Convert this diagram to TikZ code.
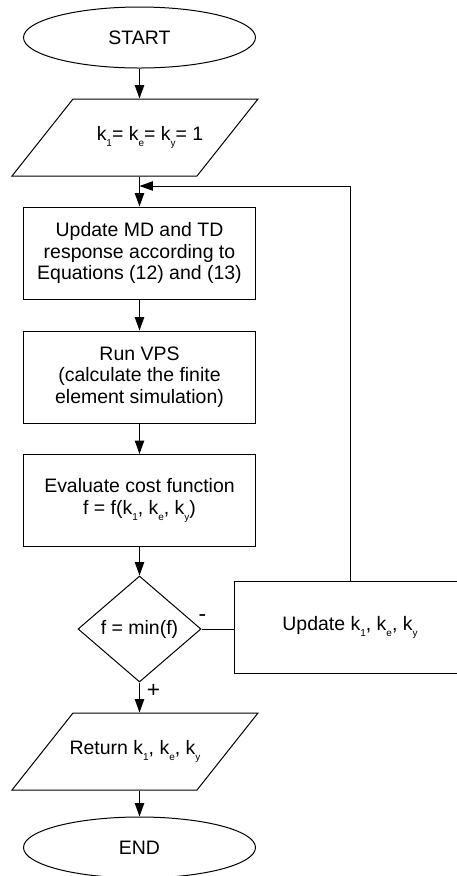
\documentclass[tikz,border=0pt]{standalone}
\usepackage{fontspec}
\setmainfont{Liberation Sans}
\usetikzlibrary{shapes.geometric,arrows.meta,calc}

\tikzset{every picture/.style={line width=0.75pt}}
\tikzset{
	term/.style={draw, ellipse, minimum width=174pt, minimum height=45.75pt, inner sep=0pt},
	proc/.style={draw, rectangle, minimum width=174pt, minimum height=69pt, inner sep=0pt, align=center},
	io/.style={rectangle, minimum width=138.75pt, minimum height=57.75pt, inner sep=0pt, align=center},
	dec/.style={draw, diamond, minimum width=92.25pt, minimum height=79.5pt, inner sep=0pt},
	arr/.style={-{Triangle[length=10pt,width=7pt]}},
	sign/.style={inner sep=0pt, font=\fontsize{17}{17}\selectfont},
}
\newcommand{\sbs}[1]{\raisebox{-4.5pt}{\fontsize{7.5}{8}\selectfont #1}}

\begin{document}
\begin{tikzpicture}[x=0.75pt,y=0.75pt,yscale=-1,xscale=1,font=\fontsize{14.6}{16.3}\selectfont]
		\path[use as bounding box, clip] (0,0) rectangle (457,876);
		
		%Terminals
		\node[term] (start) at (139.5,37.5) {START};
		\node[term] (end) at (139.5,847.5) {END};
		
		%Input / output
		\node[io] (init) at (150,137.5) {k\sbs{1}= k\sbs{e}= k\sbs{y}= 1};
		\draw ($(init.center)+(-77,-38.5)$) -- ($(init.center)+(108,-38.5)$) -- ($(init.center)+(47,38.5)$) -- ($(init.center)+(-138,38.5)$) -- cycle ;
		\node[io] (ret) at (135,751.5) {Return k\sbs{1}, k\sbs{e}, k\sbs{y}};
		\draw ($(ret.center)+(-62,-38.5)$) -- ($(ret.center)+(123,-38.5)$) -- ($(ret.center)+(62,38.5)$) -- ($(ret.center)+(-123,38.5)$) -- cycle ;
		
		%Process boxes
		\coordinate (join) at (139.5,186);
		\node[proc] (resp) at (139.5,253) {Update MD and TD\\response according to\\Equations (12) and (13)};
		\node[proc] (vps) at (139.5,377) {Run VPS\\(calculate the finite\\element simulation)};
		\node[proc] (cost) at (139.5,500.5) {Evaluate cost function\\f = f(k\sbs{1}, k\sbs{e}, k\sbs{y})};
		\node[dec] (check) at (139.5,629) {f = min(f)};
		\node[proc] (upd) at (350,627) {Update k\sbs{1}, k\sbs{e}, k\sbs{y}};
		
		%Connectors
		\draw[arr] (start.south) -- (start.south |- init.north);
		\draw (join |- init.south) -- (join);
		\draw[arr] (join) -- (resp.north);
		\draw[arr] (upd.north) |- (join);
		\draw[arr] (resp) -- (vps);
		\draw[arr] (vps) -- (cost);
		\draw[arr] (cost) -- (check);
		\draw (check.east) -- (check.east -| upd.west);
		\draw[arr] (check.south) -- (check.south |- ret.north);
		\draw[arr] (end |- ret.south) -- (end.north);
		
		\node[sign] (minus) at (202.5,618) {-};
		\node[sign] (plus) at (153.5,691) {+};
		
\end{tikzpicture}
\end{document}
